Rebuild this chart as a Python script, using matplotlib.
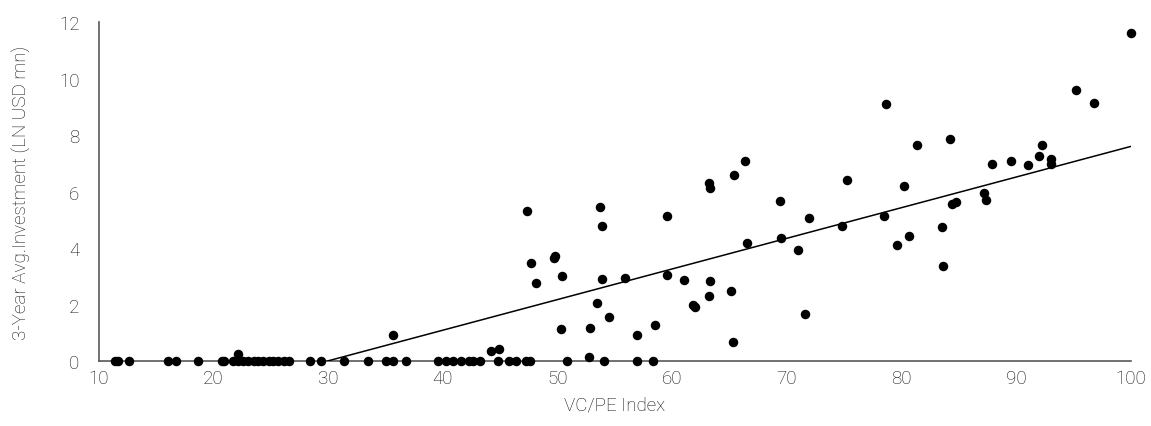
import numpy as np
import matplotlib
matplotlib.use("Agg")
import matplotlib.pyplot as plt

# zero-investment points (on the baseline)
zero_x = [11.4, 11.7, 12.6, 16.0, 16.7, 18.6, 20.7, 20.9, 21.7, 22.1, 22.6,
          23.0, 23.5, 23.9, 24.3, 24.8, 25.2, 25.6, 26.1, 26.6, 28.4, 29.4,
          31.4, 33.5, 35.0, 35.6, 36.8, 39.6, 40.3, 40.9, 41.6, 42.3, 42.6,
          43.2, 44.8, 45.8, 46.4, 47.2, 47.6, 50.8, 54.0, 56.9, 58.3]

# points with positive investment
pos_x = [22.1, 35.6, 44.2, 44.9, 47.3, 47.7, 48.1, 49.7, 49.8, 50.25, 50.4,
         52.7, 52.8, 53.4, 53.7, 53.9, 53.9, 54.5, 55.9, 56.9, 58.5, 59.5,
         59.5, 61.0, 61.8, 62.0, 63.2, 63.3, 63.2, 63.3, 65.1, 65.3, 65.4,
         66.3, 66.5, 69.4, 69.5, 71.0, 71.6, 71.9, 74.8, 75.2, 78.5, 78.6,
         79.6, 80.2, 80.6, 81.3, 83.5, 83.6, 84.2, 84.4, 84.7, 87.2, 87.4,
         87.9, 89.5, 91.0, 92.0, 92.2, 93.0, 93.0, 95.2, 96.8, 100.0]
pos_y = [0.25, 0.93, 0.35, 0.44, 5.30, 3.46, 2.76, 3.65, 3.72, 1.12, 3.01,
         0.13, 1.17, 2.05, 5.45, 4.77, 2.89, 1.56, 2.94, 0.94, 1.28, 5.13,
         3.03, 2.88, 1.99, 1.91, 2.31, 2.82, 6.29, 6.13, 2.47, 0.66, 6.60,
         7.09, 4.17, 5.65, 4.37, 3.94, 1.66, 5.05, 4.79, 6.41, 5.15, 9.10,
         4.12, 6.18, 4.44, 7.65, 4.75, 3.35, 7.86, 5.56, 5.64, 5.96, 5.71,
         6.97, 7.09, 6.95, 7.27, 7.65, 7.16, 6.96, 9.59, 9.13, 11.61]

# trend line endpoints
trend_x = [29.9, 100]
trend_y = [0, 7.6]

x = np.array(zero_x + pos_x)
y = np.array([0.0] * len(zero_x) + pos_y)

plt.rcParams['font.family'] = ['Roboto', 'DejaVu Sans']
plt.rcParams['font.weight'] = 'light'
plt.rcParams['axes.labelweight'] = 'light'

fig = plt.figure(figsize=(11.51, 4.27), dpi=100)
ax = fig.add_axes([0.086, 0.152, 0.8966, 0.794])

ax.plot(trend_x, trend_y, color='black', lw=1.1, zorder=2)
ax.scatter(x, y, s=34, color='black', zorder=3, clip_on=False)

ax.set_xlim(10, 100)
ax.set_ylim(0, 12)
ax.set_xticks(range(10, 101, 10))
ax.set_yticks(range(0, 13, 2))

for side in ['top', 'right']:
    ax.spines[side].set_visible(False)
for side in ['left', 'bottom']:
    ax.spines[side].set_color('#595959')
    ax.spines[side].set_linewidth(1.2)
ax.spines['bottom'].set_zorder(1)

ax.tick_params(length=0, labelsize=13.5, colors='#111111', pad=6)
ax.tick_params(axis='y', pad=14)

ax.set_xlabel('VC/PE Index', fontsize=13.5, color='#111111', labelpad=6)
ax.set_ylabel('3-Year Avg.Investment (LN USD mn)', fontsize=13.5,
              color='#111111', labelpad=20)

fig.savefig('out.png', dpi=100)
